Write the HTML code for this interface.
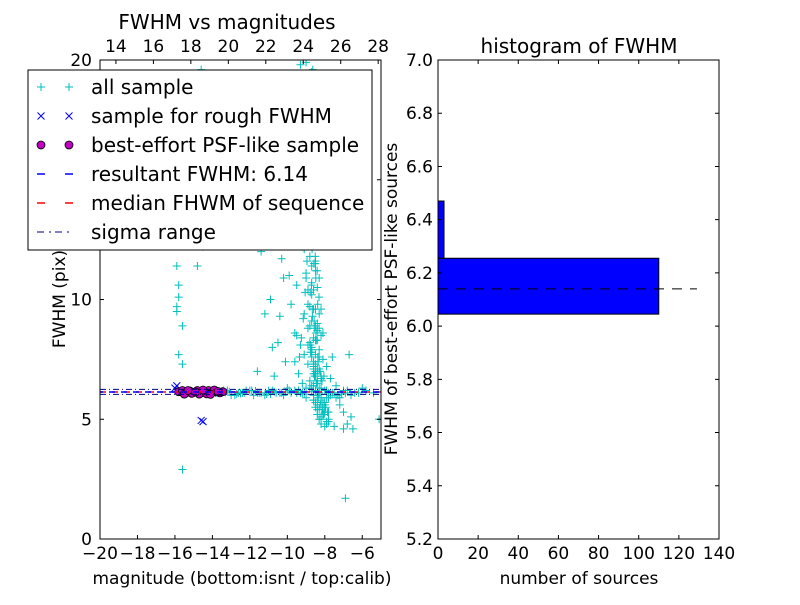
<!DOCTYPE html>
<html><head><meta charset="utf-8"><style>
body{margin:0;background:#fff}
svg text{font-family:"DejaVu Sans","Liberation Sans",sans-serif}
</style></head><body>
<svg id="c" width="800" height="600" xmlns="http://www.w3.org/2000/svg">
<rect width="800" height="600" fill="#fff"/>
<g id="left"></g>
<g id="right"></g>
</svg>
<script>
// ---- scatter data ----
const allMag = [-15.6,-6.9,-15.9,-15.8,-15.7,-15.9,-15.8,-15.6,-15.9,-15.7,-15.8,-15.6,-14.6,-14.5,-14.3,-14.7,-14.2,-14.6,-14.4,-14.5,-14.1,-14.8,
-11.4,-11.0,-10.6,-10.3,-11.2,-10.9,-10.2,-10.8,-10.4,-10.1,-11.6,-10.7,-10.5,-9.9,-10.0,-9.7,-9.8,-9.6,-9.5,
-9.4,-9.3,-9.2,-9.1,-9.0,-8.9,-8.8,-8.7,-8.6,-8.5,-8.4,-8.3,-9.4,-9.3,-9.2,-9.1,-9.0,-8.9,-8.8,-8.7,-8.6,-8.5,-8.4,
-9.3,-9.2,-9.1,-9.0,-8.9,-8.8,-8.7,-8.6,-8.5,-9.2,-9.0,-8.9,-8.8,-8.7,-8.6,-8.5,-8.4,-9.1,-8.9,-8.8,-8.7,-8.6,-8.5,
-9.0,-8.9,-8.8,-8.7,-8.6,-8.5,-8.4,-8.3,-8.9,-8.8,-8.7,-8.6,-8.5,-8.4,-8.3,-8.2,-8.8,-8.7,-8.6,-8.5,-8.4,-8.3,-8.2,-8.1,
-8.7,-8.6,-8.5,-8.4,-8.3,-8.2,-8.1,-8.0,-8.6,-8.5,-8.4,-8.3,-8.2,-8.0,-7.9,-7.8,-8.4,-8.2,-8.0,-7.8,-7.6,-7.4,-7.2,-7.0,-6.8,-6.6,
-8.6,-8.4,-8.2,-8.0,-7.8,-7.5,-8.5,-8.3,-8.1,-7.9,-7.7,-7.3,-7.0,-6.7,-6.5,-5.1,
-9.6,-9.4,-9.2,-9.0,-8.8,-8.6,-8.4,-8.2,-9.5,-9.3,-9.1,-8.9,-8.7,-8.5,-8.3,-8.1,-7.9,
-14.0,-13.6,-13.2,-12.8,-12.4,-12.0,-11.6,-11.2,-10.8,-10.4,-10.0,-9.6,-9.2,-8.8,-8.4,-8.0,-7.6,-7.2,-6.8,-6.4,-6.0,
-13.8,-13.4,-13.0,-12.6,-12.2,-11.8,-11.4,-11.0,-10.6,-10.2,-9.8,-9.4,-9.0,-8.6,-8.2,-7.8,-7.4,-7.0,-6.6,-6.2,-5.8,-5.4,
-9.0,-8.7,-8.5,-8.3,-9.1,-8.8,-8.6,-8.4,-8.9,-8.6,-8.8,-8.5,-8.7,-8.4,-8.9,-8.6,-8.3,-8.8,-8.5,-8.2,
-8.65,-8.55,-8.45,-8.75,-8.35,-8.62,-8.52,-8.42,-8.72,-8.32,-8.68,-8.58,-8.48,-8.78,-8.38,-8.66,-8.56,-8.46,-8.76,-8.36,
-8.64,-8.54,-8.44,-8.74,-8.34,-8.63,-8.53,-8.43,-8.73,-8.33,-8.61,-8.51,-8.41,-8.71,-8.31,-8.67,-8.57,-8.47,-8.77,-8.37,
-9.05,-8.95,-8.85,-9.15,-8.25,-9.25,-8.15,-9.35,-8.05,-8.95,-9.05,-8.85,-8.25,-8.15,-8.05,-7.95,-7.85,-8.35,-8.45,-8.55,
-13.5,-13.1,-12.7,-12.3,-11.9,-11.5,-11.1,-10.7,-10.3,-9.9,-9.5,-9.1,-8.7,-8.3,-7.9,-7.5,-7.1,-13.3,-12.5,-11.7,-10.9,-10.1,-9.3,-8.5,-7.7,-6.9,
-8.6,-8.5,-8.4,-8.3,-8.2,-8.7,-8.6,-8.5,-8.4,-8.3,-8.1,-8.0,-8.2,-8.1,-7.9,-7.8];
const allFwhm = [2.9,1.7,9.7,10.1,12.4,11.4,10.6,8.9,9.5,13.4,7.7,7.3,19.6,17.4,15.9,14.4,13.1,18.5,16.7,12.2,15.7,11.4,
12.0,12.3,12.8,11.7,9.4,10.0,10.9,8.0,9.3,7.4,7.0,6.8,8.2,11.0,12.6,14.2,9.8,8.6,10.6,
19.4,18.1,16.9,15.6,14.4,13.2,12.3,11.4,10.4,9.6,8.7,7.9,17.3,15.2,13.8,12.1,10.9,9.8,8.9,8.0,7.3,6.8,6.5,
19.8,19.0,18.3,17.4,16.1,15.0,13.9,12.7,11.5,12.2,11.1,10.4,9.7,9.1,8.4,7.7,7.1,9.4,8.8,8.2,7.6,7.2,6.9,
14.2,13.0,11.8,10.7,9.6,8.9,8.3,7.6,16.8,15.4,14.0,12.8,11.6,10.5,9.4,8.5,18.6,17.0,15.5,13.9,12.3,10.9,9.6,8.6,
7.9,7.4,7.0,6.6,6.3,5.9,5.6,5.3,5.8,5.5,5.2,5.0,4.8,4.7,4.8,5.0,6.0,5.8,5.7,5.9,7.6,6.4,5.6,5.3,4.8,5.1,
6.4,5.4,5.1,5.6,4.9,4.7,6.9,6.1,5.5,5.9,6.7,6.0,4.6,7.7,4.6,5.0,
7.4,6.9,6.5,6.3,6.6,7.1,7.0,6.7,8.5,8.1,7.7,7.3,7.8,8.3,8.8,7.5,7.2,
6.2,6.1,6.2,6.0,6.1,6.2,6.1,6.0,6.2,6.1,6.3,6.2,6.1,6.3,6.0,6.2,6.1,5.9,6.2,6.1,6.3,
6.1,6.2,6.0,6.1,6.2,6.0,6.1,6.2,6.1,6.0,6.1,6.2,5.9,6.0,6.3,6.1,5.9,6.2,6.0,6.1,6.2,6.1,
19.9,19.5,20.2,18.8,18.2,17.6,19.1,16.4,14.8,13.6,12.9,11.2,10.2,9.0,8.1,14.6,15.8,17.9,16.2,13.3,
19.2,18.4,17.7,16.9,16.2,15.5,14.8,14.1,13.4,12.7,12.1,11.5,10.9,10.3,9.8,9.3,8.8,8.3,7.8,7.4,
19.6,18.8,18.0,17.3,16.6,15.8,15.1,14.4,13.7,13.0,12.4,11.8,11.2,10.6,10.1,9.6,9.1,8.6,8.1,7.6,
10.3,11.6,12.5,9.2,7.0,8.4,6.6,7.6,6.8,14.9,16.6,17.8,5.6,5.4,5.2,5.5,5.3,5.9,6.5,6.8,
6.1,6.15,6.05,6.1,6.2,6.1,6.05,6.15,6.1,6.2,6.1,6.05,6.15,6.1,6.2,6.1,6.05,6.12,6.08,6.18,6.06,6.14,6.1,6.2,6.0,6.1,
6.9,7.3,6.6,7.1,6.8,6.4,5.8,5.7,5.6,5.4,5.7,5.3,5.0,5.2,4.9,5.3];
const roughMag = [-16.0,-15.9,-15.8,-14.6,-14.5,-15.5,-15.2,-15.0,-14.8,-14.3,-14.0];
const roughFwhm = [6.3,6.4,6.2,4.95,4.9,6.15,6.1,6.2,6.15,6.2,6.1];
const psfMag = [-15.8,-15.6,-15.4,-15.2,-15.0,-14.8,-14.6,-14.4,-14.2,-14.0,-13.8,-13.6,-13.45,-15.5,-15.1,-14.7,-14.3,-13.9,-15.3,-14.9,-14.5,-14.1,-13.7];
const psfFwhm = [6.15,6.2,6.1,6.18,6.12,6.2,6.1,6.15,6.2,6.12,6.18,6.1,6.15,6.05,6.08,6.05,6.06,6.22,6.2,6.14,6.22,6.04,6.16];
const resultFwhm = 6.14, medianFwhm = 6.14, sigmaLo = 6.04, sigmaHi = 6.25;
const xTicks = [-20,-18,-16,-14,-12,-10,-8,-6];
const xTickLabels = ["\u221220","\u221218","\u221216","\u221214","\u221212","\u221210","\u22128","\u22126"];
const yTicks = [0,5,10,15,20];
const topTicks = [14,16,18,20,22,24,26,28];
// ---- histogram data ----
const binEdges = [6.045,6.255,6.47];
const binCounts = [110,3];
const histYTicks = [5.2,5.4,5.6,5.8,6.0,6.2,6.4,6.6,6.8,7.0];
const histXTicks = [0,20,40,60,80,100,120,140];

const NS="http://www.w3.org/2000/svg";
function el(p,t,a){const e=document.createElementNS(NS,t);for(const k in a)e.setAttribute(k,a[k]);p.appendChild(e);return e;}
const L=document.getElementById('left'), R=document.getElementById('right');
const FT=17, FL=20;
const lx0=100,lx1=381,ly0=60,ly1=539;
const xs=m=>lx0+(m+20)/15*(lx1-lx0);
const ys=f=>ly1-f/20*(ly1-ly0);
const calibOff=33.15;
const xt=c=>xs(c-calibOff);
const clip=el(document.getElementById('c'),'clipPath',{id:'lc'});
el(clip,'rect',{x:lx0,y:ly0,width:lx1-lx0,height:ly1-ly0});
const pts=el(L,'g',{'clip-path':'url(#lc)'});


for(let i=0;i<allMag.length;i++){
  const x=xs(allMag[i]),y=ys(allFwhm[i]);
  const p=el(pts,'path',{d:`M${x-4},${y}h8M${x},${y-4}v8`,stroke:'#00bfbf','stroke-width':1});
  
  
}
for(let i=0;i<roughMag.length;i++){
  const x=xs(roughMag[i]),y=ys(roughFwhm[i]);
  const p=el(pts,'path',{d:`M${x-3.5},${y-3.5}l7,7M${x-3.5},${y+3.5}l7,-7`,stroke:'#0000ff','stroke-width':1});
  
  
}
for(let i=0;i<psfMag.length;i++){
  const c=el(pts,'circle',{cx:xs(psfMag[i]),cy:ys(psfFwhm[i]),r:4,fill:'#bf00bf',stroke:'#000','stroke-width':0.8});
  
  
}
let ln=el(pts,'line',{x1:lx0,x2:lx1,y1:ys(medianFwhm),y2:ys(medianFwhm),stroke:'#ff0000','stroke-width':1.5,'stroke-dasharray':'6,6'});

ln=el(pts,'line',{x1:lx0,x2:lx1,y1:ys(resultFwhm),y2:ys(resultFwhm),stroke:'#0000ff','stroke-width':1.5,'stroke-dasharray':'6,6','stroke-dashoffset':3});

for(const s of [sigmaLo,sigmaHi]){
  ln=el(pts,'line',{x1:lx0,x2:lx1,y1:ys(s),y2:ys(s),stroke:'#000080','stroke-width':1,'stroke-dasharray':'6,3,1,3'});
  
}
el(L,'rect',{x:lx0,y:ly0,width:lx1-lx0,height:ly1-ly0,fill:'none',stroke:'#000','stroke-width':1});
xTicks.forEach((t,i)=>{const x=xs(t);
  el(L,'path',{d:`M${x},${ly1}v-4`,stroke:'#000'});
  const tx=el(L,'text',{x:x,y:ly1+20,'text-anchor':'middle','font-size':FT});tx.textContent=xTickLabels[i];
  });
topTicks.forEach(t=>{const x=xt(t);
  el(L,'path',{d:`M${x},${ly0}v4`,stroke:'#000'});
  const tx=el(L,'text',{x:x,y:ly0-8,'text-anchor':'middle','font-size':FT});tx.textContent=t;
  });
yTicks.forEach(t=>{const y=ys(t);
  el(L,'path',{d:`M${lx0},${y}h4M${lx1},${y}h-4`,stroke:'#000'});
  const tx=el(L,'text',{x:lx0-8,y:y+6,'text-anchor':'end','font-size':FT});tx.textContent=t;
  });
let t=el(L,'text',{x:227,y:29,'text-anchor':'middle','font-size':FL});t.textContent='FWHM vs magnitudes';

t=el(L,'text',{x:242,y:584,'text-anchor':'middle','font-size':FT});t.textContent='magnitude (bottom:isnt / top:calib)';

t=el(L,'text',{x:65,y:299,'text-anchor':'middle','font-size':FT,transform:'rotate(-90 65 299)'});t.textContent='FWHM (pix)';

const lg=el(L,'g',{});

el(lg,'rect',{x:28,y:70,width:344,height:180,fill:'#fff',stroke:'#000','stroke-width':1});
const entries=['all sample','sample for rough FWHM','best-effort PSF-like sample','resultant FWHM: 6.14','median FHWM of sequence','sigma range'];
entries.forEach((s,i)=>{const y=87+i*29;
  const g=el(lg,'g',{});
  if(i==0){for(const x of [41,69])el(g,'path',{d:`M${x-4},${y}h8M${x},${y-4}v8`,stroke:'#00bfbf'});}
  if(i==1){for(const x of [41,69])el(g,'path',{d:`M${x-3.5},${y-3.5}l7,7M${x-3.5},${y+3.5}l7,-7`,stroke:'#0000ff'});}
  if(i==2){for(const x of [41,69])el(g,'circle',{cx:x,cy:y,r:4,fill:'#bf00bf',stroke:'#000','stroke-width':0.8});}
  if(i==3)el(g,'path',{d:`M37,${y}h8M65,${y}h8`,stroke:'#0000ff','stroke-width':1.5});
  if(i==4)el(g,'path',{d:`M37,${y}h8M65,${y}h8`,stroke:'#ff0000','stroke-width':1.5});
  if(i==5)el(g,'path',{d:`M37,${y}h7M49,${y}h2M55,${y}h7M67,${y}h2`,stroke:'#000080','stroke-width':1});
  const tx=el(g,'text',{x:91,y:y+7,'font-size':FL});tx.textContent=s;});
const rx0=438,rx1=719,ry0=60,ry1=539;
const hx=v=>rx0+v/140*(rx1-rx0);
const hy=v=>ry1-(v-5.2)/1.8*(ry1-ry0);
binCounts.forEach((c,i)=>{const r=el(R,'rect',{x:hx(0),y:hy(binEdges[i+1]),width:hx(c)-hx(0),height:hy(binEdges[i])-hy(binEdges[i+1]),fill:'#0000ff',stroke:'#000','stroke-width':1});
  });
ln=el(R,'line',{x1:hx(0),x2:hx(129),y1:hy(resultFwhm),y2:hy(resultFwhm),stroke:'#000','stroke-width':1,'stroke-dasharray':'10,8'});

el(R,'rect',{x:rx0,y:ry0,width:rx1-rx0,height:ry1-ry0,fill:'none',stroke:'#000'});
histXTicks.forEach(v=>{const x=hx(v);el(R,'path',{d:`M${x},${ry1}v-4M${x},${ry0}v4`,stroke:'#000'});
  const tx=el(R,'text',{x:x,y:ry1+20,'text-anchor':'middle','font-size':FT});tx.textContent=v;
  });
histYTicks.forEach(v=>{const y=hy(v);el(R,'path',{d:`M${rx0},${y}h4M${rx1},${y}h-4`,stroke:'#000'});
  const tx=el(R,'text',{x:rx0-5,y:y+6,'text-anchor':'end','font-size':FT});tx.textContent=v.toFixed(1);
  });
t=el(R,'text',{x:579,y:53,'text-anchor':'middle','font-size':FL});t.textContent='histogram of FWHM';

t=el(R,'text',{x:579,y:584,'text-anchor':'middle','font-size':FT});t.textContent='number of sources';

t=el(R,'text',{x:397,y:299,'text-anchor':'middle','font-size':FT,transform:'rotate(-90 397 299)'});t.textContent='FWHM of best-effort PSF-like sources';

</script>
</body></html>
